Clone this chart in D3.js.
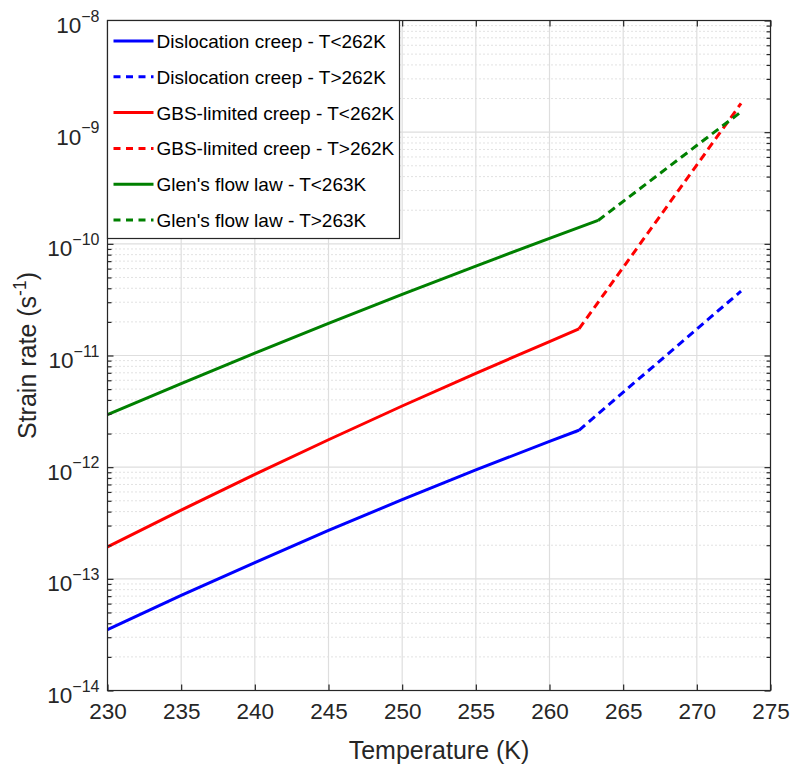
<!DOCTYPE html>
<html>
<head>
<meta charset="utf-8">
<script src="https://cdn.jsdelivr.net/npm/d3@7"></script>
<style>
  body { margin: 0; background: #fff; }
  text { font-family: "Liberation Sans", Arial, sans-serif; fill: #262626; }
</style>
</head>
<body>
<div id="chart"></div>
<script>
// temperatures (K) and strain rates (1/s)
var lowTemps = [230, 235, 240, 245, 250, 255, 260, 262];
var dislocLow = [3.51e-14, 7.10e-14, 1.40e-13, 2.71e-13, 5.12e-13, 9.44e-13, 1.70e-12, 2.14e-12];
var gbsLow = [1.93e-13, 4.12e-13, 8.61e-13, 1.76e-12, 3.53e-12, 6.93e-12, 1.33e-11, 1.73e-11];
var highTemps = [262, 273];
var dislocHigh = [2.14e-12, 3.77e-11];
var gbsHigh = [1.73e-11, 1.81e-9];
var glenLowTemps = [230, 235, 240, 245, 250, 255, 260, 263.3];
var glenLow = [2.96e-12, 5.61e-12, 1.05e-11, 1.94e-11, 3.52e-11, 6.32e-11, 1.12e-10, 1.62e-10];
var glenHighTemps = [263.3, 273];
var glenHigh = [1.62e-10, 1.52e-9];

var xTicks = [230, 235, 240, 245, 250, 255, 260, 265, 270, 275];
var yExps = [-14, -13, -12, -11, -10, -9, -8];

var legendLabels = ["Dislocation creep - T<262K", "Dislocation creep - T>262K",
                    "GBS-limited creep - T<262K", "GBS-limited creep - T>262K",
                    "Glen's flow law - T<263K", "Glen's flow law - T>263K"];

function zip(xs, ys) { return xs.map(function(x, i) { return [x, ys[i]]; }); }

var series = [
  { pts: zip(lowTemps, dislocLow), color: "#0000ff", dash: null },
  { pts: zip(highTemps, dislocHigh), color: "#0000ff", dash: "8,5" },
  { pts: zip(lowTemps, gbsLow), color: "#ff0000", dash: null },
  { pts: zip(highTemps, gbsHigh), color: "#ff0000", dash: "8,5" },
  { pts: zip(glenLowTemps, glenLow), color: "#008000", dash: null },
  { pts: zip(glenHighTemps, glenHigh), color: "#008000", dash: "8,5" }
];

var W = 797, H = 771;
var m = { left: 107.5, top: 20.5, right: 26.5, bottom: 80.5 };
var w = W - m.left - m.right, h = H - m.top - m.bottom;

var svg = d3.select("#chart").append("svg")
    .attr("width", W)
    .attr("height", H);

var g = svg.append("g").attr("transform", "translate(" + m.left + "," + m.top + ")");

var x = d3.scaleLinear().domain([230, 275]).range([0, w]);
var y = d3.scaleLog().domain([1e-14, 1e-8]).range([h, 0]);

// minor values 2..9 per decade
var minors = [];
yExps.slice(0, -1).forEach(function(e) {
  for (var k = 2; k <= 9; k++) minors.push(k * Math.pow(10, e));
});
var majors = yExps.map(function(e) { return Math.pow(10, e); });

///////////// GRID /////////////
g.selectAll("line.minor-grid")
    .data(minors)
    .enter().append("line")
    .attr("class", "minor-grid")
    .attr("x1", 0).attr("x2", w)
    .attr("y1", function(d) { return y(d); })
    .attr("y2", function(d) { return y(d); })
    .attr("stroke", "#c4c4c4")
    .attr("stroke-width", 1)
    .attr("stroke-dasharray", "1,3");

g.selectAll("line.major-grid-y")
    .data(majors)
    .enter().append("line")
    .attr("class", "major-grid-y")
    .attr("x1", 0).attr("x2", w)
    .attr("y1", function(d) { return y(d); })
    .attr("y2", function(d) { return y(d); })
    .attr("stroke", "#dedede")
    .attr("stroke-width", 1.2);

g.selectAll("line.major-grid-x")
    .data(xTicks)
    .enter().append("line")
    .attr("class", "major-grid-x")
    .attr("y1", 0).attr("y2", h)
    .attr("x1", function(d) { return x(d); })
    .attr("x2", function(d) { return x(d); })
    .attr("stroke", "#dedede")
    .attr("stroke-width", 1.2);

///////////// LINES /////////////
var line = d3.line()
    .x(function(d) { return x(d[0]); })
    .y(function(d) { return y(d[1]); });

g.selectAll("path.series")
    .data(series)
    .enter().append("path")
    .attr("class", "series")
    .attr("d", function(d) { return line(d.pts); })
    .attr("fill", "none")
    .attr("stroke", function(d) { return d.color; })
    .attr("stroke-width", 3)
    .attr("stroke-dasharray", function(d) { return d.dash; });

///////////// AXES /////////////
function styleAxis(sel) {
  sel.select(".domain").remove();
  sel.selectAll("line").attr("stroke", "#262626").attr("stroke-width", 1.2);
}

g.append("g").attr("transform", "translate(0," + h + ")")
    .call(d3.axisBottom(x).tickValues(xTicks).tickSize(-6).tickPadding(13).tickFormat(d3.format("d")))
    .call(styleAxis)
    .selectAll("text")
    .attr("font-size", 22.5)
    .attr("fill", "#262626")
    .attr("dy", "0.71em");

g.append("g")
    .call(d3.axisTop(x).tickValues(xTicks).tickSize(-6).tickFormat(""))
    .call(styleAxis);

[d3.axisLeft, d3.axisRight].forEach(function(ax, i) {
  var tx = i === 0 ? 0 : w;
  g.append("g").attr("transform", "translate(" + tx + ",0)")
      .call(ax(y).tickValues(majors).tickSize(-6).tickFormat(""))
      .call(styleAxis);
  g.append("g").attr("transform", "translate(" + tx + ",0)")
      .call(ax(y).tickValues(minors).tickSize(-4).tickFormat(""))
      .call(styleAxis);
});

// y tick labels as 10^n
var ylab = g.selectAll("text.ylab")
    .data(yExps)
    .enter().append("text")
    .attr("class", "ylab")
    .attr("x", -8)
    .attr("y", function(d) { return y(Math.pow(10, d)) + 12.5; })
    .attr("text-anchor", "end")
    .attr("font-size", 22.5);
ylab.append("tspan").text("10");
ylab.append("tspan")
    .attr("dy", -11.5)
    .attr("font-size", 16)
    .text(function(d) { return "\u2212" + Math.abs(d); });

// box
g.append("rect")
    .attr("width", w).attr("height", h)
    .attr("fill", "none")
    .attr("stroke", "#262626")
    .attr("stroke-width", 1.2);

// axis titles
g.append("text")
    .attr("x", w / 2)
    .attr("y", h + 68)
    .attr("text-anchor", "middle")
    .attr("font-size", 25)
    .text("Temperature (K)");

var yt = g.append("text")
    .attr("transform", "translate(-72," + (h / 2) + ") rotate(-90)")
    .attr("text-anchor", "middle")
    .attr("font-size", 25);
yt.append("tspan").text("Strain rate (s");
yt.append("tspan").attr("dy", -10).attr("font-size", 17.5).text("-1");
yt.append("tspan").attr("dy", 10).text(")");

///////////// LEGEND /////////////
var leg = g.append("g").attr("class", "legend");
leg.append("rect")
    .attr("x", 0).attr("y", 0)
    .attr("width", 292).attr("height", 218)
    .attr("fill", "#fff")
    .attr("stroke", "#262626")
    .attr("stroke-width", 1.2);

var rows = leg.selectAll("g.row")
    .data(series)
    .enter().append("g")
    .attr("class", "row")
    .attr("transform", function(d, i) { return "translate(0," + (20.5 + i * 35.8) + ")"; });

rows.append("line")
    .attr("x1", 6).attr("x2", 46)
    .attr("stroke", function(d) { return d.color; })
    .attr("stroke-width", 3)
    .attr("stroke-dasharray", function(d) { return d.dash ? "7,5.5" : null; });

rows.append("text")
    .attr("x", 49)
    .attr("y", 7)
    .attr("font-size", 19)
    .style("fill", "#000")
    .text(function(d, i) { return legendLabels[i]; });
</script>
</body>
</html>
